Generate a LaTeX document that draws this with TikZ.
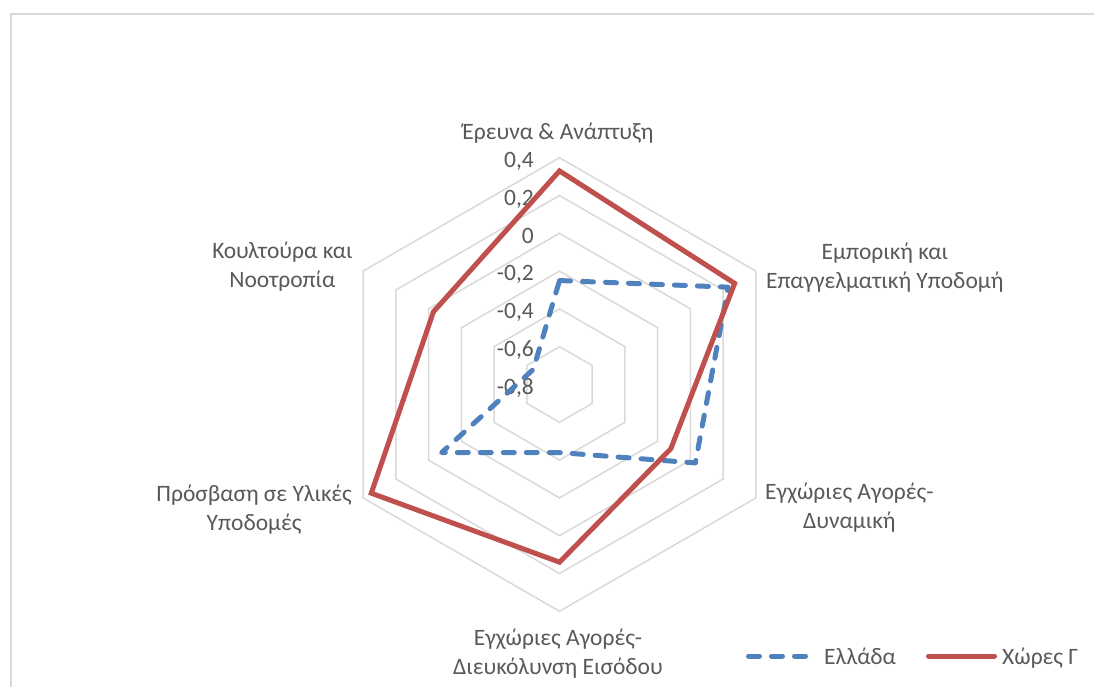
\documentclass[tikz,border=0pt]{standalone}
\usepackage{fontspec}
\setmainfont{Carlito}
\usetikzlibrary{calc}
\definecolor{txt}{HTML}{595959}
\definecolor{gridc}{HTML}{D9D9D9}
\definecolor{grc}{HTML}{4F81BD}
\definecolor{cgc}{HTML}{C0504D}
\begin{document}
\begin{tikzpicture}[x=1pt,y=1pt,
  lab/.style={text=txt,font=\fontsize{23.5}{29}\selectfont,inner sep=0pt},
  gridline/.style={draw=gridc,line width=1.5},
  greece/.style={draw=grc,line width=5,dash pattern=on 11 off 12,line cap=round,line join=round},
  others/.style={draw=cgc,line width=5,line join=miter}]
\useasboundingbox (0,0) rectangle (1094,686);
\coordinate (C) at (559.5,301.5);
% frame
\draw[draw=gridc,line width=2] (11,-5) -- (11,672) -- (1100,672);
% grid rings
\foreach \i in {1,...,6}{
  \draw[gridline] ($(C)+(90:\i*37.8)$)
    -- ($(C)+(30:\i*37.8)$) -- ($(C)+(-30:\i*37.8)$) -- ($(C)+(-90:\i*37.8)$)
    -- ($(C)+(-150:\i*37.8)$) -- ($(C)+(150:\i*37.8)$) -- cycle;
}
% tick labels
\foreach \i/\t in {0/{-0,8},1/{-0,6},2/{-0,4},3/{-0,2},4/{0},5/{0,2},6/{0,4}}{
  \node[lab,anchor=base east] (tick\i) at (534,{301.5+\i*37.8-9.8}) {\t};
}
% axis labels
\node[lab,anchor=base] (ax1) at (558,546) {Έρευνα \& Ανάπτυξη};
\node[lab,anchor=base west] (ax2b) at (766,397.7) {Επαγγελματική Υποδομή};
\node[lab,anchor=base] (ax2a) at ([yshift=29]ax2b.base) {Εμπορική και};
\node[lab,anchor=base west] (ax3a) at (765,187) {Εγχώριες Αγορές-};
\node[lab,anchor=base] (ax3b) at ([yshift=-29]ax3a.base) {Δυναμική};
\node[lab,anchor=base] (ax4a) at (558,41) {Εγχώριες Αγορές-};
\node[lab,anchor=base] (ax4b) at (558,12) {Διευκόλυνση Εισόδου};
\node[lab,anchor=base east] (ax5a) at (352,185) {Πρόσβαση σε Υλικές};
\node[lab,anchor=base] (ax5b) at ([yshift=-29]ax5a.base) {Υποδομές};
\node[lab,anchor=base east] (ax6a) at (352.7,427) {Κουλτούρα και};
\node[lab,anchor=base] (ax6b) at ([yshift=-29]ax6a.base) {Νοοτροπία};
% data
\draw[greece] ($(C)+(90:{(-0.25+0.8)*189})$) -- ($(C)+(30:{(0.23+0.8)*189})$)
  -- ($(C)+(-30:{(0.03+0.8)*189})$) -- ($(C)+(-90:{(-0.44+0.8)*189})$)
  -- ($(C)+(-150:{(-0.08+0.8)*189})$) -- ($(C)+(150:{(-0.64+0.8)*189})$) -- cycle;
\draw[others] ($(C)+(90:{(0.33+0.8)*189})$) -- ($(C)+(30:{(0.27+0.8)*189})$)
  -- ($(C)+(-30:{(-0.12+0.8)*189})$) -- ($(C)+(-90:{(0.14+0.8)*189})$)
  -- ($(C)+(-150:{(0.35+0.8)*189})$) -- ($(C)+(150:{(-0.03+0.8)*189})$) -- cycle;
% legend
\coordinate (lg1a) at (748.5,30);
\coordinate (lg1b) at (805.5,30);
\draw[greece] (lg1a) -- (lg1b);
\node[lab,anchor=base west] (leg1) at (824,21.7) {Ελλάδα};
\coordinate (lg2a) at (928.5,30);
\coordinate (lg2b) at (994.5,30);
\draw[others,line cap=round] (lg2a) -- (lg2b);
\node[lab,anchor=base west] (leg2) at (1002,21.7) {Χώρες Γ};
\end{tikzpicture}
\end{document}
